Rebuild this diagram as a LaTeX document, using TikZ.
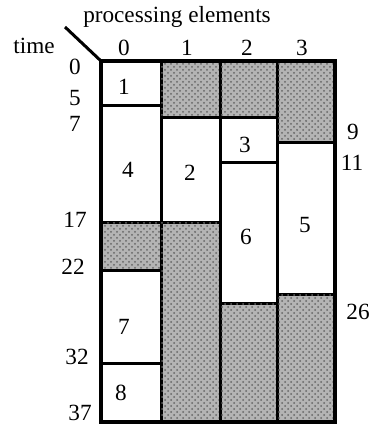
\documentclass[tikz,border=0pt]{standalone}
\usepackage{fontspec}
\setmainfont{Liberation Serif}
\usetikzlibrary{patterns}
\definecolor{idle}{RGB}{180,180,180}

\begin{document}
\begin{tikzpicture}[x=0.5pt, y=-0.5pt, font=\fontsize{11.6}{13}\selectfont,
  busy/.style={draw, line width=1.5pt, fill=white},
  idle/.style={draw, line width=1.5pt, fill=idle, postaction={pattern=crosshatch dots, pattern color=black!60}},
  frame/.style={draw, line width=1.7pt},
  lbl/.style={inner sep=0pt}]
\useasboundingbox (0,0) rectangle (369,427);

% PE 0
\draw[busy] (101,61) rectangle (161,106);
\draw[busy] (101,106) rectangle (161,222);
\draw[idle] (101,222) rectangle (161,270);
\draw[busy] (101,270) rectangle (161,363);
\draw[busy] (101,363) rectangle (161,422);

% PE 1
\draw[idle] (161,61) rectangle (220,118);
\draw[busy] (161,118) rectangle (220,222);
\draw[idle] (161,222) rectangle (220,422);

% PE 2
\draw[idle] (220,61) rectangle (277,118);
\draw[busy] (220,118) rectangle (277,163);
\draw[busy] (220,163) rectangle (277,303);
\draw[idle] (220,303) rectangle (277,422);

% PE 3
\draw[idle] (277,61) rectangle (335,143);
\draw[busy] (277,143) rectangle (335,294);
\draw[idle] (277,294) rectangle (335,422);

\draw[frame] (101,61) rectangle (335,422);

% task numbers
\node[lbl] at (124,87) (t1) {1};
\node[lbl] at (128,170) (t4) {4};
\node[lbl] at (190,173) (t2) {2};
\node[lbl] at (245,145) (t3) {3};
\node[lbl] at (246,237) (t6) {6};
\node[lbl] at (305,225) (t5) {5};
\node[lbl] at (124,327) (t7) {7};
\node[lbl] at (121,393) (t8) {8};

% axis heading
\coordinate (corner) at (101,61);
\coordinate (slash) at (65,27);
\draw[line width=1.5pt] (slash) -- (corner);
\node[lbl] at (177,17) (pe) {processing elements};
\node[lbl] at (34,46) (time) {time};
\node[lbl] at (124,48) (p0) {0};
\node[lbl] at (187,48) (p1) {1};
\node[lbl] at (247,48) (p2) {2};
\node[lbl] at (302,48) (p3) {3};

% time marks
\node[lbl] at (75,67) (s0) {0};
\node[lbl] at (75,98) (s5) {5};
\node[lbl] at (75,124) (s7) {7};
\node[lbl] at (75,220) (s17) {17};
\node[lbl] at (73,267) (s22) {22};
\node[lbl] at (77,357) (s32) {32};
\node[lbl] at (80,413) (s37) {37};
\node[lbl] at (353,132) (s9) {9};
\node[lbl] at (352,163) (s11) {11};
\node[lbl] at (358,312) (s26) {26};
\end{tikzpicture}
\end{document}
